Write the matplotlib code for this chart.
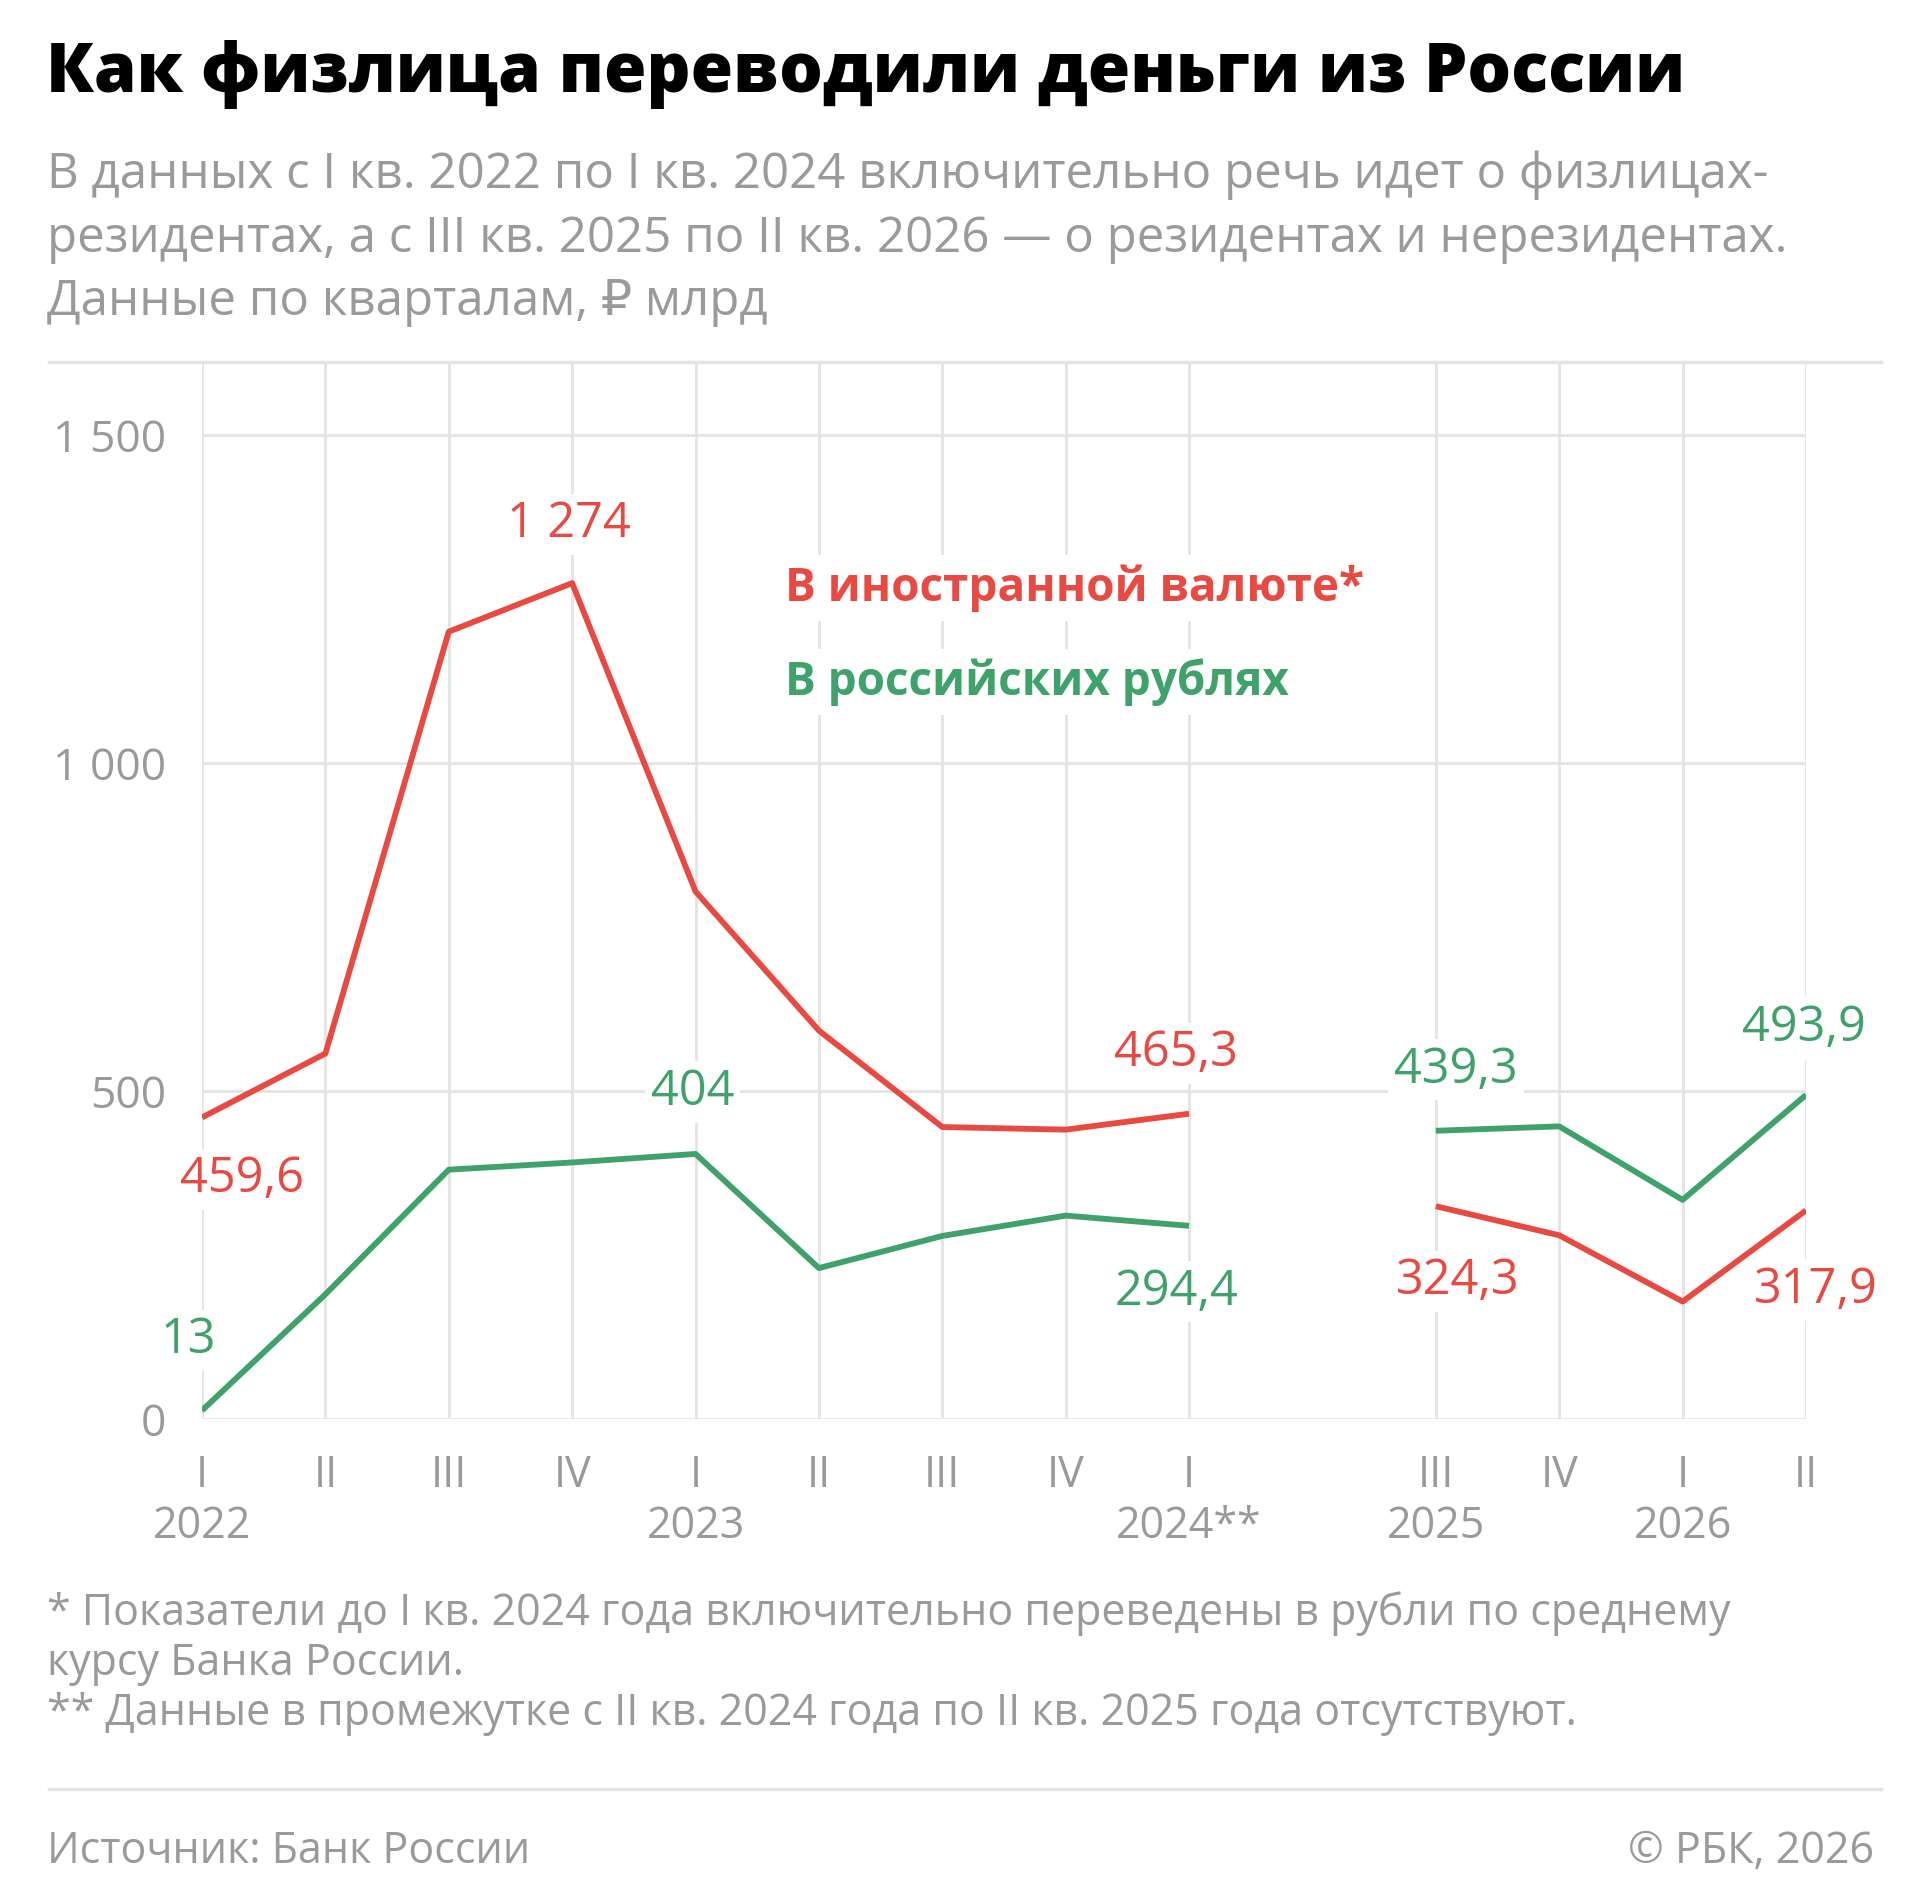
import matplotlib
matplotlib.use('Agg')
import matplotlib.pyplot as plt
from matplotlib.lines import Line2D

plt.rcParams['font.family'] = ['Open Sans', 'DejaVu Sans']

# Data (quarters, gap between I 2024 and III 2025)
x_pos = [0, 1, 2, 3, 4, 5, 6, 7, 8, 10, 11, 12, 13]
quarters = ['I', 'II', 'III', 'IV', 'I', 'II', 'III', 'IV', 'I', 'III', 'IV', 'I', 'II']
years = {0: '2022', 4: '2023', 8: '2024**', 10: '2025', 12: '2026'}
foreign = [459.6, 557, 1200, 1274, 804, 592, 445, 441, 465.3, 324.3, 280, 179, 317.9]
rubles = [13, 190, 380, 391, 404, 230, 279, 310, 294.4, 439.3, 446, 334, 493.9]
y_ticks = [0, 500, 1000, 1500]

RED = '#e84a42'
GREEN = '#3ea26a'
GRAY = '#9a9a9a'
GRID = '#e4e4e4'

W, H = 1918, 1902


def fy(y):
    return 1 - y / H


def fx(x):
    return x / W


def fmt(v):
    s = f'{v:,.1f}'.replace(',', ' ').replace('.', ',')
    if s.endswith(',0'):
        s = s[:-2]
    return s


fig = plt.figure(figsize=(W / 100, H / 100), dpi=100)
ax = fig.add_axes([fx(202), fy(1419), fx(1806 - 202), (1419 - 362) / H])
ax.set_xlim(0, 13)
ax.set_ylim(0, 1611)

# grid
for v in y_ticks:
    ax.plot([0, 13], [v, v], color=GRID, lw=2, zorder=1)
for x in x_pos:
    ax.axvline(x, color=GRID, lw=2, zorder=1)

# lines, split at the gap
for vals, col in ((foreign, RED), (rubles, GREEN)):
    ax.plot(x_pos[:9], vals[:9], color=col, lw=4.2, zorder=3, solid_capstyle='butt')
    ax.plot(x_pos[9:], vals[9:], color=col, lw=4.2, zorder=3, solid_capstyle='butt')

# value labels: (series, colour, index, dx px, dy px)
labels = [
    (foreign, RED, 0, 40, -62),
    (foreign, RED, 3, -3, 59),
    (foreign, RED, 8, -13, 60),
    (foreign, RED, 9, 22, -75),
    (foreign, RED, 12, 10, -80),
    (rubles, GREEN, 0, -14, 70),
    (rubles, GREEN, 4, -3, 62),
    (rubles, GREEN, 8, -13, -66),
    (rubles, GREEN, 9, 20, 61),
    (rubles, GREEN, 12, -2, 67),
]
for vals, col, i, dx, dy in labels:
    ax.annotate(fmt(vals[i]), xy=(x_pos[i], vals[i]), xytext=(dx, dy),
                textcoords='offset pixels', ha='center', va='center',
                color=col, fontsize=35, zorder=4, annotation_clip=False,
                bbox=dict(boxstyle='square,pad=0.12', fc='white', ec='none'))

# legend
fig.text(fx(785), fy(588), 'В иностранной валюте*', color=RED, fontsize=33,
         fontweight='bold', va='center', ha='left', zorder=5,
         bbox=dict(boxstyle='square,pad=0.2', fc='white', ec='none'))
fig.text(fx(785), fy(682), 'В российских рублях', color=GREEN, fontsize=33,
         fontweight='bold', va='center', ha='left', zorder=5,
         bbox=dict(boxstyle='square,pad=0.2', fc='white', ec='none'))

# axes ticks
ax.set_xticks(x_pos)
ax.set_xticklabels(quarters, color=GRAY, fontsize=31)
ax.set_yticks(y_ticks)
ax.set_yticklabels([fmt(v) for v in y_ticks], color=GRAY, fontsize=32)
ax.tick_params(axis='both', length=0)
ax.tick_params(axis='x', pad=25)
ax.tick_params(axis='y', pad=26)
for sp in ax.spines.values():
    sp.set_visible(False)
for i, yr in years.items():
    ax.annotate(yr, xy=(i, 0), xytext=(0, -108), textcoords='offset pixels',
                ha='center', va='center', color=GRAY, fontsize=31,
                annotation_clip=False)

# title and subtitle
fig.text(fx(46), fy(92), 'Как физлица переводили деньги из России',
         fontsize=49.5, fontweight='heavy', color='black', va='baseline')
sub = ['В данных с I кв. 2022 по I кв. 2024 включительно речь идет о физлицах-',
       'резидентах, а с III кв. 2025 по II кв. 2026 — о резидентах и нерезидентах.',
       'Данные по кварталам, ₽ млрд']
for k, line in enumerate(sub):
    fig.text(fx(47), fy(188 + 63.5 * k), line, fontsize=35.5, color=GRAY,
             va='baseline')

# separators
fig.add_artist(Line2D([fx(49), fx(1881)], [fy(362), fy(362)], color=GRID, lw=2.5))
fig.add_artist(Line2D([fx(49), fx(1881)], [fy(1789), fy(1789)], color=GRID, lw=2.5))

# footnotes
notes = ['* Показатели до I кв. 2024 года включительно переведены в рубли по среднему',
         'курсу Банка России.',
         '** Данные в промежутке с II кв. 2024 года по II кв. 2025 года отсутствуют.']
for k, line in enumerate(notes):
    fig.text(fx(47), fy(1625 + 50 * k), line, fontsize=31, color=GRAY, va='baseline')

fig.text(fx(47), fy(1863), 'Источник: Банк России', fontsize=31, color=GRAY, va='baseline')
fig.text(fx(1874), fy(1863), '© РБК, 2026', fontsize=31, color=GRAY, va='baseline', ha='right')

fig.savefig('out.png', dpi=100, facecolor='white')
